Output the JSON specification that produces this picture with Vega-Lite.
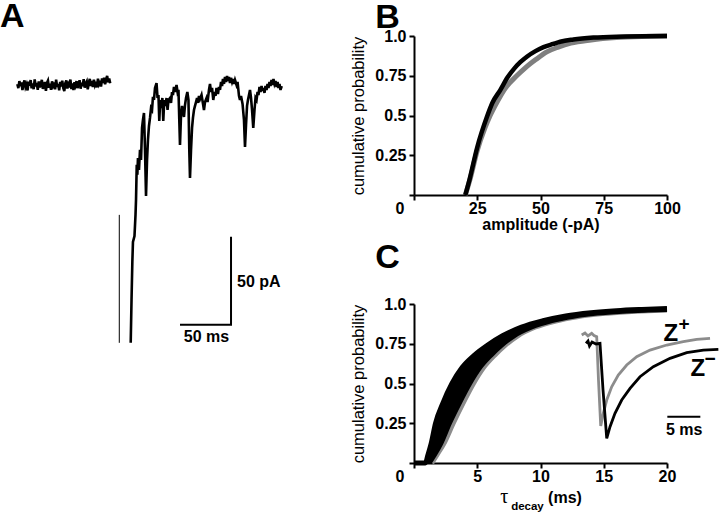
{
 "$schema": "https://vega.github.io/schema/vega-lite/v6.json",
 "background": "white",
 "padding": 0,
 "bounds": "flush",
 "spacing": 118,
 "config": {
  "view": {"stroke": null},
  "font": "Liberation Sans",
  "axis": {"grid": false, "domainColor": "#000", "domainWidth": 2, "tickColor": "#000", "tickWidth": 2, "tickSize": 5, "labelColor": "#000", "labelFont": "Liberation Sans", "labelFontSize": 16, "labelFontWeight": "bold", "labelPadding": 3, "labelFlush": false, "labelOverlap": false, "titleColor": "#000", "titleFont": "Liberation Sans"},
  "axisX": {"labelPadding": 0, "titleFontSize": 16, "titleFontWeight": "bold", "titlePadding": 0},
  "axisY": {"titleFontSize": 16.5, "titleFontWeight": "normal", "titlePadding": 8}
 },
 "datasets": {
  "baseline": [
   {"t":17,"c":0.5},{"t":18,"c":-1.8},{"t":19,"c":2.2},{"t":20,"c":-0.6},{"t":21,"c":1.4},{"t":22,"c":-2.9},{"t":23,"c":0.8},{"t":24,"c":2.6},{"t":25,"c":-1.2},{"t":26,"c":0.3},{"t":27,"c":-3.1},{"t":28,"c":1.9},{"t":29,"c":-0.4},{"t":30,"c":2.8},{"t":31,"c":-1.9},{"t":32,"c":0.9},{"t":33,"c":-2.4},{"t":34,"c":3.2},{"t":35,"c":-0.8},{"t":36,"c":1.1},{"t":37,"c":-2.7},{"t":38,"c":2.0},{"t":39,"c":-1.3},{"t":40,"c":0.4},{"t":41,"c":2.9},{"t":42,"c":-2.2},{"t":43,"c":-0.5},{"t":44,"c":1.7},{"t":45,"c":-3.3},{"t":46,"c":1.2},{"t":47,"c":2.5},{"t":48,"c":-1.6},{"t":49,"c":0.7},{"t":50,"c":-2.8},{"t":51,"c":2.1},{"t":52,"c":-0.2},{"t":53,"c":1.5},{"t":54,"c":-2.5},{"t":55,"c":3.0},{"t":56,"c":-1.1},{"t":57,"c":0.6},{"t":58,"c":-3.0},{"t":59,"c":1.8},{"t":60,"c":-0.9},{"t":61,"c":2.4},{"t":62,"c":-1.7},{"t":63,"c":-3.4},{"t":64,"c":1.0},{"t":65,"c":2.6},{"t":66,"c":-2.0},{"t":67,"c":0.2},{"t":68,"c":-1.4},{"t":69,"c":3.1},{"t":70,"c":-2.3},{"t":71,"c":0.9},{"t":72,"c":-2.9},{"t":73,"c":1.6},{"t":74,"c":-0.3},{"t":75,"c":2.2},{"t":76,"c":-1.8},{"t":77,"c":0.5},{"t":78,"c":2.7},{"t":79,"c":-2.1},{"t":80,"c":1.3},{"t":81,"c":-0.7},{"t":82,"c":3.3},{"t":83,"c":-1.5},{"t":84,"c":0.8},{"t":85,"c":2.0},{"t":86,"c":-2.4},{"t":87,"c":1.1},{"t":88,"c":3.5},{"t":89,"c":-0.6},{"t":90,"c":2.3},{"t":91,"c":-1.2},{"t":92,"c":3.0},{"t":93,"c":0.1},{"t":94,"c":1.9},{"t":95,"c":-1.4},{"t":96,"c":3.6},{"t":97,"c":0.7},{"t":98,"c":2.4},{"t":99,"c":-0.9},{"t":100,"c":3.8},{"t":101,"c":1.2},{"t":102,"c":4.1},{"t":103,"c":0.4},{"t":104,"c":2.9},{"t":105,"c":5.2},{"t":106,"c":1.5},{"t":107,"c":3.6},{"t":108,"c":1.0}
  ],
  "response": [
   {"t":128.1,"c":-146.5},{"t":128.9,"c":-122.1},{"t":129.7,"c":-100.5},{"t":130.3,"c":-89.2},{"t":131.8,"c":-85.8},{"t":132.8,"c":-73.8},{"t":133.3,"c":-65.3},{"t":134.0,"c":-45.4},{"t":134.6,"c":-51.1},{"t":135.2,"c":-41.5},{"t":136.2,"c":-48.3},{"t":137.2,"c":-36.9},{"t":138.2,"c":-42.6},{"t":139.2,"c":-24.4},{"t":140.1,"c":-19.9},{"t":141.1,"c":-15.9},{"t":142.1,"c":-36.9},{"t":143.1,"c":-63.0},{"t":144.1,"c":-42.6},{"t":145.0,"c":-31.2},{"t":146.0,"c":-23.3},{"t":147.0,"c":-18.7},{"t":148.0,"c":-13.1},{"t":149.0,"c":-14.2},{"t":149.9,"c":-6.8},{"t":150.9,"c":-8.5},{"t":151.9,"c":-1.7},{"t":153.4,"c":1.1},{"t":154.4,"c":-7.4},{"t":155.3,"c":-5.7},{"t":156.1,"c":-20.4},{"t":157.0,"c":-8.5},{"t":158.1,"c":-13.1},{"t":159.1,"c":-7.4},{"t":160.0,"c":-20.4},{"t":161.0,"c":-8.5},{"t":162.2,"c":-11.9},{"t":163.2,"c":-7.4},{"t":164.2,"c":-14.2},{"t":165.1,"c":-8.5},{"t":166.6,"c":-7.4},{"t":167.6,"c":-10.2},{"t":168.6,"c":-4.0},{"t":169.5,"c":-5.7},{"t":170.5,"c":-1.1},{"t":171.5,"c":-4.0},{"t":173.0,"c":0},{"t":174.0,"c":-4.0},{"t":174.9,"c":-2.8},{"t":175.7,"c":-19.9},{"t":176.4,"c":-34.1},{"t":177.4,"c":-17.0},{"t":178.4,"c":-11.9},{"t":179.3,"c":-15.3},{"t":180.3,"c":-18.2},{"t":181.3,"c":-11.4},{"t":182.3,"c":-7.4},{"t":183.6,"c":-4.0},{"t":184.7,"c":-8.5},{"t":185.5,"c":-36.9},{"t":186.2,"c":-52.8},{"t":187.2,"c":-36.9},{"t":188.2,"c":-24.4},{"t":189.1,"c":-18.7},{"t":190.1,"c":-14.2},{"t":191.1,"c":-11.9},{"t":192.1,"c":-9.7},{"t":193.1,"c":-7.4},{"t":194.0,"c":-10.2},{"t":195.0,"c":-6.2},{"t":196.0,"c":-8.0},{"t":197.5,"c":-5.7},{"t":198.5,"c":-9.1},{"t":199.9,"c":-14.2},{"t":200.9,"c":-9.7},{"t":202.4,"c":-7.4},{"t":203.4,"c":-9.7},{"t":204.8,"c":-2.8},{"t":205.8,"c":0.6},{"t":206.8,"c":-4.0},{"t":207.8,"c":-1.7},{"t":209.0,"c":-8.5},{"t":210.2,"c":-4.0},{"t":211.2,"c":-6.2},{"t":212.2,"c":-1.7},{"t":213.6,"c":-5.1},{"t":214.6,"c":-1.1},{"t":215.6,"c":-2.8},{"t":216.6,"c":1.7},{"t":217.6,"c":-0.6},{"t":218.5,"c":3.4},{"t":219.5,"c":0.6},{"t":220.5,"c":4.5},{"t":221.5,"c":1.7},{"t":222.5,"c":5.1},{"t":223.4,"c":2.3},{"t":224.4,"c":4.5},{"t":225.4,"c":1.1},{"t":226.4,"c":4.0},{"t":227.4,"c":1.7},{"t":228.3,"c":3.4},{"t":229.3,"c":0.6},{"t":230.3,"c":2.8},{"t":231.8,"c":0},{"t":232.8,"c":1.7},{"t":234.2,"c":-6.2},{"t":235.2,"c":-8.5},{"t":236.2,"c":-6.2},{"t":237.7,"c":-10.8},{"t":239.1,"c":-19.9},{"t":240.1,"c":-35.2},{"t":241.1,"c":-22.7},{"t":242.1,"c":-11.9},{"t":243.0,"c":-8.5},{"t":244.0,"c":-5.7},{"t":245.0,"c":-2.8},{"t":246.0,"c":-7.4},{"t":247.0,"c":-14.2},{"t":248.2,"c":-24.4},{"t":249.4,"c":-14.2},{"t":250.4,"c":-7.4},{"t":251.4,"c":-8.5},{"t":252.4,"c":-4.0},{"t":253.3,"c":-5.7},{"t":254.3,"c":-1.1},{"t":255.3,"c":-4.0},{"t":256.3,"c":-0.6},{"t":257.3,"c":-3.4},{"t":258.2,"c":-1.7},{"t":259.2,"c":-4.5},{"t":260.2,"c":-0.6},{"t":261.2,"c":-2.8},{"t":262.2,"c":0.6},{"t":263.1,"c":-1.7},{"t":264.1,"c":1.7},{"t":265.1,"c":-0.6},{"t":266.1,"c":2.8},{"t":267.1,"c":0},{"t":268.0,"c":3.4},{"t":269.0,"c":0.6},{"t":270.0,"c":2.3},{"t":271.0,"c":-1.1},{"t":272.0,"c":1.7},{"t":272.9,"c":-1.7},{"t":273.9,"c":0.6},{"t":274.9,"c":-2.8},{"t":276.1,"c":-0.6}
  ],
  "artifact": [{"t":116.9,"c":-73.8},{"t":116.9,"c":-146.5}],
  "scalebarA": [{"t":226.4,"c":-86.3,"k":1},{"t":226.4,"c":-136.3,"k":2},{"t":176.4,"c":-136.3,"k":3}],
  "labelA": [{"t":0,"c":32.9,"text":"A"}],
  "scaleTextA": [{"t":232.3,"c":-111.9,"text":"50 pA"}],
  "scaleTextA2": [{"t":202.4,"c":-143.1,"text":"50 ms"}],
  "bBlack": [
   {"amp":20.3,"p":0},{"amp":22,"p":0.1},{"amp":25,"p":0.3},{"amp":28.8,"p":0.49},{"amp":31,"p":0.58},{"amp":34.1,"p":0.66},{"amp":37,"p":0.74},{"amp":39.6,"p":0.795},{"amp":42,"p":0.835},{"amp":44.6,"p":0.87},{"amp":48,"p":0.905},{"amp":51.2,"p":0.93},{"amp":55,"p":0.95},{"amp":57.8,"p":0.964},{"amp":63,"p":0.978},{"amp":70.9,"p":0.99},{"amp":80,"p":0.996},{"amp":100,"p":1}
  ],
  "bGray": [
   {"amp":20.3,"p":0},{"amp":22,"p":0.09},{"amp":25,"p":0.28},{"amp":28,"p":0.42},{"amp":30.1,"p":0.5},{"amp":33,"p":0.59},{"amp":36,"p":0.67},{"amp":40.6,"p":0.75},{"amp":44,"p":0.8},{"amp":48,"p":0.85},{"amp":52.5,"p":0.9},{"amp":57,"p":0.93},{"amp":62,"p":0.955},{"amp":70,"p":0.975},{"amp":80,"p":0.99},{"amp":90,"p":0.997},{"amp":100,"p":1}
  ],
  "labelB": [{"amp":-15.3,"p":1.05,"text":"B"}],
  "cBand": [
   {"p":0,"tau":0.9,"tau2":1.2},{"p":0.05,"tau":1.1,"tau2":1.6},{"p":0.12,"tau":1.35,"tau2":2.1},{"p":0.25,"tau":1.7,"tau2":2.8},{"p":0.38,"tau":2.3,"tau2":3.6},{"p":0.5,"tau":3.0,"tau2":4.4},{"p":0.6,"tau":3.8,"tau2":5.2},{"p":0.68,"tau":4.8,"tau2":6.1},{"p":0.74,"tau":5.8,"tau2":6.9},{"p":0.8,"tau":7.0,"tau2":7.9},{"p":0.855,"tau":8.5,"tau2":9.3},{"p":0.895,"tau":10.2,"tau2":10.9}
  ],
  "cBlackL": [
   {"tau":0,"p":0},{"tau":0.9,"p":0},{"tau":1.1,"p":0.05},{"tau":1.35,"p":0.12},{"tau":1.7,"p":0.25},{"tau":2.3,"p":0.38},{"tau":3.0,"p":0.5},{"tau":3.8,"p":0.6},{"tau":4.8,"p":0.68},{"tau":5.8,"p":0.74},{"tau":7.0,"p":0.8},{"tau":8.5,"p":0.855},{"tau":10.2,"p":0.895},{"tau":12,"p":0.925},{"tau":14,"p":0.945},{"tau":16,"p":0.958},{"tau":18,"p":0.966},{"tau":20,"p":0.972}
  ],
  "cBlackR": [
   {"tau":1.2,"p":0},{"tau":1.6,"p":0.05},{"tau":2.1,"p":0.12},{"tau":2.8,"p":0.25},{"tau":3.6,"p":0.38},{"tau":4.4,"p":0.5},{"tau":5.2,"p":0.6},{"tau":6.1,"p":0.68},{"tau":6.9,"p":0.74},{"tau":7.9,"p":0.8},{"tau":9.3,"p":0.855},{"tau":10.9,"p":0.895},{"tau":12.6,"p":0.923},{"tau":14.5,"p":0.943},{"tau":16.5,"p":0.955},{"tau":18.5,"p":0.962},{"tau":20,"p":0.966}
  ],
  "cGray": [
   {"tau":1.4,"p":0},{"tau":1.8,"p":0.05},{"tau":2.35,"p":0.12},{"tau":3.1,"p":0.25},{"tau":3.9,"p":0.38},{"tau":4.7,"p":0.5},{"tau":5.5,"p":0.6},{"tau":6.4,"p":0.68},{"tau":7.2,"p":0.74},{"tau":8.2,"p":0.8},{"tau":9.6,"p":0.855},{"tau":11.2,"p":0.893},{"tau":12.9,"p":0.92},{"tau":14.9,"p":0.94},{"tau":16.9,"p":0.952},{"tau":18.5,"p":0.958},{"tau":20,"p":0.962}
  ],
  "labelC": [{"tau":-3.06,"p":1.226,"text":"C"}],
  "tauSym": [{"tau":7.13,"p":-0.252,"text":"τ"}],
  "tauSub": [{"tau":7.68,"p":-0.296,"text":"decay"}],
  "tauUnit": [{"tau":10.6,"p":-0.252,"text":"(ms)"}],
  "insetGray": [
   {"ti":25.41,"v":0.087},{"ti":25.91,"v":0.108},{"ti":26.36,"v":0.077},{"ti":26.92,"v":0.105},{"ti":27.27,"v":0.082},{"ti":27.68,"v":0.069},{"ti":27.95,"v":-0.386},{"ti":28.29,"v":-0.871},{"ti":28.68,"v":-0.737},{"ti":29.2,"v":-0.597},{"ti":29.95,"v":-0.457},{"ti":30.95,"v":-0.334},{"ti":32.23,"v":-0.228},{"ti":33.74,"v":-0.141},{"ti":35.76,"v":-0.071},{"ti":38.29,"v":-0.018},{"ti":40.8,"v":0.017},{"ti":42.83,"v":0.042},{"ti":44.85,"v":0.053}
  ],
  "insetBlack": [
   {"ti":26.06,"v":0},{"ti":26.36,"v":0.024},{"ti":26.59,"v":-0.028},{"ti":26.97,"v":0.014},{"ti":27.58,"v":-0.007},{"ti":28.18,"v":0},{"ti":28.64,"v":-0.492},{"ti":29.2,"v":-1.0},{"ti":29.7,"v":-0.878},{"ti":30.45,"v":-0.737},{"ti":31.47,"v":-0.597},{"ti":32.73,"v":-0.474},{"ti":34.24,"v":-0.352},{"ti":36.26,"v":-0.246},{"ti":38.79,"v":-0.158},{"ti":41.32,"v":-0.099},{"ti":43.83,"v":-0.071},{"ti":46.11,"v":-0.063}
  ],
  "insetBar": [{"ti":38.38,"v":-0.773},{"ti":43.38,"v":-0.773}],
  "insetZ": [{"ti":37.8,"v":0.024,"text":"Z"},{"ti":41.9,"v":-0.344,"text":"Z"}],
  "insetSup": [{"ti":40.9,"v":0.2,"text":"+"},{"ti":44.85,"v":-0.16,"text":"−"}],
  "insetBarText": [{"ti":40.94,"v":-0.913,"text":"5 ms"}]
 },
 "hconcat": [
  {
   "width": 296,
   "height": 350,
   "encoding": {
    "x": {"field": "t", "type": "quantitative", "scale": {"domain": [0, 290.08], "nice": false, "zero": false}, "axis": null},
    "y": {"field": "c", "type": "quantitative", "scale": {"domain": [-171.03, 27.83], "nice": false, "zero": false}, "axis": null}
   },
   "layer": [
    {"data": {"name": "baseline"}, "mark": {"type": "line", "color": "#000", "strokeWidth": 2.6}},
    {"data": {"name": "response"}, "mark": {"type": "line", "color": "#000", "strokeWidth": 2.6}},
    {"data": {"name": "artifact"}, "mark": {"type": "line", "color": "#000", "strokeWidth": 1}},
    {"data": {"name": "scalebarA"}, "mark": {"type": "line", "color": "#000", "strokeWidth": 2}, "encoding": {"order": {"field": "k", "type": "quantitative"}}},
    {"data": {"name": "labelA"}, "mark": {"type": "text", "align": "left", "baseline": "alphabetic", "fontSize": 34, "fontWeight": "bold", "font": "Liberation Sans", "color": "#000"}, "encoding": {"text": {"field": "text"}}},
    {"data": {"name": "scaleTextA"}, "mark": {"type": "text", "align": "left", "baseline": "middle", "fontSize": 16, "fontWeight": "bold", "font": "Liberation Sans", "color": "#000"}, "encoding": {"text": {"field": "text"}}},
    {"data": {"name": "scaleTextA2"}, "mark": {"type": "text", "align": "center", "baseline": "middle", "fontSize": 16, "fontWeight": "bold", "font": "Liberation Sans", "color": "#000"}, "encoding": {"text": {"field": "text"}}}
   ]
  },
  {
   "spacing": 109,
   "bounds": "flush",
   "vconcat": [
    {
     "width": 253,
     "height": 159,
     "encoding": {
      "x": {"field": "amp", "type": "quantitative", "scale": {"domain": [0, 100], "nice": false, "zero": false},
            "axis": {"values": [0, 25, 50, 75, 100], "title": "amplitude (-pA)",
                     "labelAlign": {"condition": {"test": "datum.value === 0", "value": "right"}, "value": "center"},
                     "labelOffset": {"condition": {"test": "datum.value === 0", "value": -10}, "value": 0}}},
      "y": {"field": "p", "type": "quantitative", "scale": {"domain": [0, 1], "nice": false},
            "axis": {"values": [0, 0.25, 0.5, 0.75, 1], "title": "cumulative probability",
                     "labelExpr": "datum.value == 0 ? '' : datum.value == 1 ? '1.0' : datum.value == 0.5 ? '0.5' : datum.value == 0.25 ? '0.25' : '0.75'"}}
     },
     "layer": [
      {"data": {"name": "bGray"}, "mark": {"type": "line", "color": "#7f7f7f", "strokeWidth": 5, "interpolate": "monotone"}},
      {"data": {"name": "bBlack"}, "mark": {"type": "line", "color": "#000", "strokeWidth": 4.5, "interpolate": "monotone"}},
      {"data": {"name": "labelB"}, "mark": {"type": "text", "align": "left", "baseline": "alphabetic", "fontSize": 34, "fontWeight": "bold", "font": "Liberation Sans", "color": "#000"}, "encoding": {"text": {"field": "text"}}}
     ]
    },
    {
     "width": 253,
     "height": 159,
     "resolve": {"scale": {"x": "independent", "y": "independent"}},
     "layer": [
      {
       "encoding": {
        "x": {"field": "tau", "type": "quantitative", "scale": {"domain": [0, 20], "nice": false, "zero": false},
              "axis": {"values": [0, 5, 10, 15, 20], "title": null,
                       "labelAlign": {"condition": {"test": "datum.value === 0", "value": "right"}, "value": "center"},
                       "labelOffset": {"condition": {"test": "datum.value === 0", "value": -10}, "value": 0}}},
        "y": {"field": "p", "type": "quantitative", "scale": {"domain": [0, 1], "nice": false},
              "axis": {"values": [0, 0.25, 0.5, 0.75, 1], "title": "cumulative probability",
                       "labelExpr": "datum.value == 0 ? '' : datum.value == 1 ? '1.0' : datum.value == 0.5 ? '0.5' : datum.value == 0.25 ? '0.25' : '0.75'"}}
       },
       "layer": [
        {"data": {"name": "cGray"}, "mark": {"type": "line", "color": "#8c8c8c", "strokeWidth": 5, "interpolate": "monotone"}},
        {"data": {"name": "cBand"}, "mark": {"type": "area", "orient": "horizontal", "color": "#000", "opacity": 1}, "encoding": {"x2": {"field": "tau2"}}},
        {"data": {"name": "cBlackL"}, "mark": {"type": "line", "color": "#000", "strokeWidth": 5, "interpolate": "monotone"}},
        {"data": {"name": "cBlackR"}, "mark": {"type": "line", "color": "#000", "strokeWidth": 5, "interpolate": "monotone"}},
        {"data": {"name": "labelC"}, "mark": {"type": "text", "align": "left", "baseline": "alphabetic", "fontSize": 34, "fontWeight": "bold", "font": "Liberation Sans", "color": "#000"}, "encoding": {"text": {"field": "text"}}},
        {"data": {"name": "tauSym"}, "mark": {"type": "text", "align": "center", "baseline": "alphabetic", "fontSize": 20, "font": "Liberation Serif", "color": "#000"}, "encoding": {"text": {"field": "text"}}},
        {"data": {"name": "tauSub"}, "mark": {"type": "text", "align": "left", "baseline": "alphabetic", "fontSize": 11.5, "fontWeight": "bold", "font": "Liberation Sans", "color": "#000"}, "encoding": {"text": {"field": "text"}}},
        {"data": {"name": "tauUnit"}, "mark": {"type": "text", "align": "left", "baseline": "alphabetic", "fontSize": 16, "fontWeight": "bold", "font": "Liberation Sans", "color": "#000"}, "encoding": {"text": {"field": "text"}}}
       ]
      },
      {
       "encoding": {
        "x": {"field": "ti", "type": "quantitative", "scale": {"domain": [0, 38.33], "nice": false, "zero": false}, "axis": null},
        "y": {"field": "v", "type": "quantitative", "scale": {"domain": [-1.26, 0.414], "nice": false, "zero": false}, "axis": null}
       },
       "layer": [
        {"data": {"name": "insetGray"}, "mark": {"type": "line", "color": "#8c8c8c", "strokeWidth": 2.8}},
        {"data": {"name": "insetBlack"}, "mark": {"type": "line", "color": "#000", "strokeWidth": 2.8}},
        {"data": {"name": "insetBar"}, "mark": {"type": "line", "color": "#000", "strokeWidth": 2}},
        {"data": {"name": "insetZ"}, "mark": {"type": "text", "align": "left", "baseline": "alphabetic", "fontSize": 24, "fontWeight": "bold", "font": "Liberation Sans", "color": "#000"}, "encoding": {"text": {"field": "text"}}},
        {"data": {"name": "insetSup"}, "mark": {"type": "text", "align": "center", "baseline": "middle", "fontSize": 19, "fontWeight": "bold", "font": "Liberation Sans", "color": "#000"}, "encoding": {"text": {"field": "text"}}},
        {"data": {"name": "insetBarText"}, "mark": {"type": "text", "align": "center", "baseline": "middle", "fontSize": 16, "fontWeight": "bold", "font": "Liberation Sans", "color": "#000"}, "encoding": {"text": {"field": "text"}}}
       ]
      }
     ]
    }
   ]
  }
 ]
}
